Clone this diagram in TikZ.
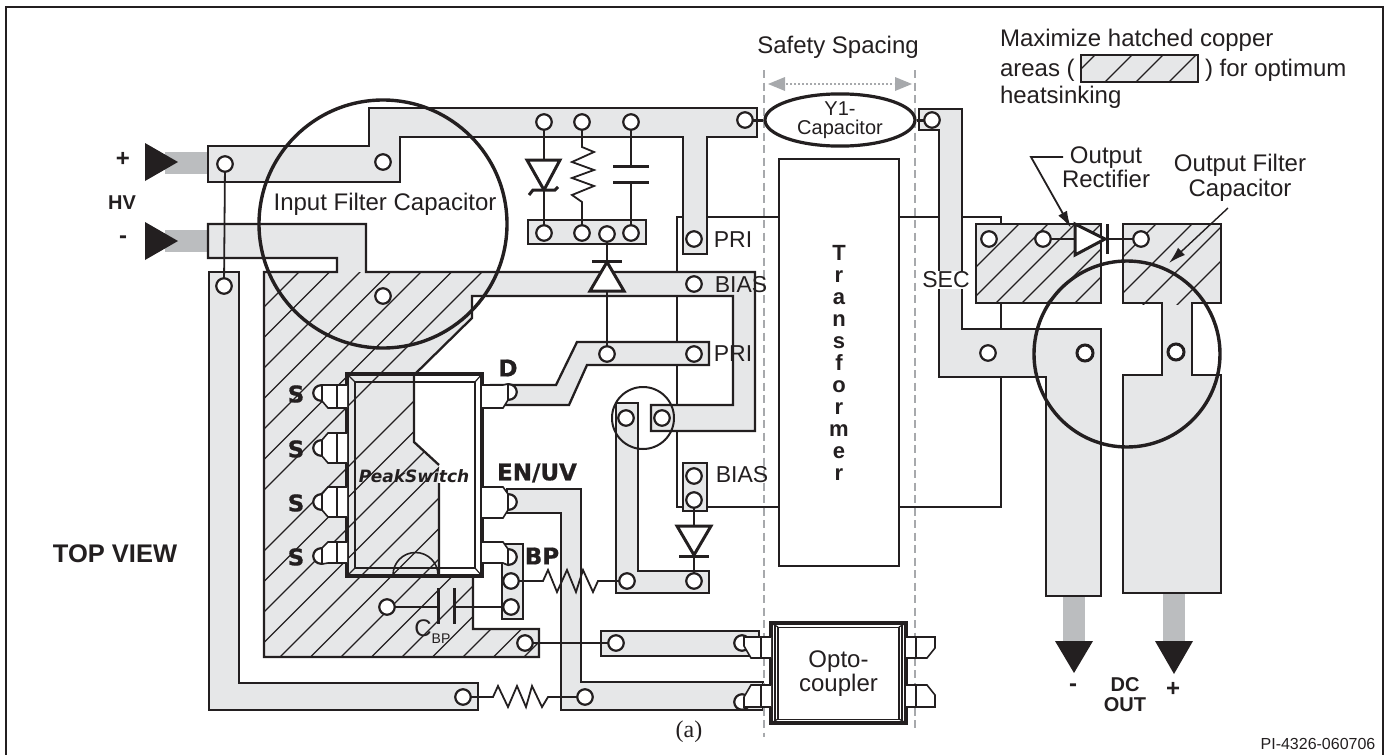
\documentclass[tikz,border=0pt]{standalone}
\usepackage{fontspec}
\setmainfont{Liberation Sans}
\newfontfamily\heavyfont{DejaVu Sans}[BoldFeatures={FakeBold=0.7}]
\newfontfamily\romanfont{Liberation Serif}
\usetikzlibrary{shapes.geometric,arrows.meta}
\definecolor{ink}{HTML}{231F20}
\definecolor{copper}{HTML}{E6E7E8}
\definecolor{barg}{HTML}{BBBDBF}
\definecolor{dashg}{HTML}{A7A9AC}
\newcommand{\fs}[1]{\fontsize{#1}{#1}\selectfont}
\newcommand{\hv}{\heavyfont\bfseries\fs{23}}
\tikzset{
  trace/.style={draw=ink,fill=copper,line width=2.3pt},
  outl/.style={draw=ink,line width=2.3pt},
  wire/.style={draw=ink,line width=1.8pt},
  hatchln/.style={draw=ink,line width=1.3pt},
  pad/.style={circle,draw=ink,fill=white,line width=2.2pt,minimum size=15.5pt,inner sep=0pt,outer sep=0pt},
  bigpad/.style={pad,line width=3pt,minimum size=16pt},
  lbl/.style={inner sep=0pt,outer sep=0pt,text=ink,font=\fs{24},align=center},
  pinpoly/.style={draw=ink,fill=white,line width=1.6pt},
  bigcirc/.style={draw=ink,line width=3.4pt},
  diode/.style={draw=ink,fill=white,line width=3pt,line join=miter},
  plate/.style={draw=ink,line width=3pt},
  safety/.style={draw=dashg,line width=2.4pt,dash pattern=on 8pt off 4.5pt},
  black tri/.style={fill=ink},
  gray bar/.style={fill=barg},
}
\newcommand{\pinL}[4]{% name, top, pad, bottom
  \node[pad] (#1) at (321,#3) {};
  \draw[pinpoly] (347,#2) -- (328,#2) -- (322,#3-8) -- (322,#3+8) -- (328,#4) -- (347,#4);
  \draw[ink,line width=1.4pt] (337,#2) -- (337,#4);
}
\newcommand{\pinR}[4]{% name, top, pad, bottom
  \node[pad] (#1) at (509,#3) {};
  \draw[pinpoly] (482,#2) -- (503,#2) -- (508,#3-8) -- (508,#3+8) -- (503,#4) -- (482,#4);
}
\begin{document}
\begin{tikzpicture}[x=1pt,y=-1pt]
\useasboundingbox (0,0) rectangle (1390,755);
% frame
\draw[ink,line width=2.8pt] (6,7) rectangle (1383,760);

% transformer anchor coordinates and wires underneath the copper
\coordinate (tul) at (779,217);
\coordinate (tll) at (779,507);
\coordinate (tur) at (899,217);
\coordinate (tlr) at (899,507);
\coordinate (wul) at (677,217);
\coordinate (wll) at (677,507);
\coordinate (wur) at (1001,217);
\coordinate (wlr) at (1001,507);
\draw[wire] (tul) -- (wul) -- (wll) -- (tll);
\draw[wire] (tur) -- (wur) -- (wlr) -- (tlr);

% grey terminal bars
\fill[gray bar] (165,152) rectangle (208,174);
\fill[gray bar] (165,230) rectangle (208,252);
\fill[gray bar] (1063,596) rectangle (1085,643);
\fill[gray bar] (1163,593) rectangle (1185,643);
\fill[black tri] (145,143) -- (145,181) -- (178,162) -- cycle;
\fill[black tri] (145,222) -- (145,260) -- (178,241) -- cycle;
\fill[black tri] (1055,641) -- (1093,641) -- (1074,673) -- cycle;
\fill[black tri] (1155,641) -- (1193,641) -- (1174,674) -- cycle;

% copper traces
\draw[trace] (208,146) -- (369,146) -- (369,108) -- (757,108) -- (757,137) -- (707,137) -- (707,254) -- (683,254) -- (683,137) -- (400,137) -- (400,182) -- (208,182) -- cycle;
\draw[trace] (209,272) -- (239,272) -- (239,683) -- (478,683) -- (478,710) -- (209,710) -- cycle;
\def\mainpath{(439,483) -- (439,576) -- (473,576) -- (473,629) -- (539,629) -- (539,657) -- (264,657) -- (264,272) -- (337,272) -- (337,258) -- (208,258) -- (208,224) -- (366,224) -- (366,272) -- (755,272) -- (755,431) -- (651,431) -- (651,405) -- (733,405) -- (733,296) -- (472,296) -- (472,318) -- (414,375) -- (414,442) -- (439,465)}
\fill[copper] \mainpath -- cycle;
\begin{scope}
  \clip (264,272) -- (490,272) -- (472,296) -- (472,318) -- (414,375) -- (414,442) -- (439,465) -- (439,576) -- (473,576) -- (473,629) -- (539,629) -- (539,657) -- (264,657) -- cycle;
  \foreach \k in {0,...,6,8,9,...,22}{
    \pgfmathsetmacro\cc{571+30.5*\k}
    \draw[hatchln] ({\cc-250},250) -- ({\cc-700},700);
  }
\end{scope}
\draw[outl] \mainpath;
\draw[trace] (492,385) -- (556,385) -- (577,342) -- (709,342) -- (709,365) -- (587,365) -- (569,405) -- (505,405) -- cycle;
\draw[trace] (507,489) -- (581,489) -- (581,682) -- (763,682) -- (763,710) -- (561,710) -- (561,513) -- (507,513) -- cycle;
\draw[trace] (502,544) rectangle (523,619);
\draw[trace] (601,631) rectangle (759,656);
\draw[trace] (616,403) -- (638,403) -- (638,571) -- (709,571) -- (709,593) -- (616,593) -- cycle;
\draw[trace] (683,463) rectangle (707,511);
\draw[trace] (528,220) rectangle (646,244);
\draw[trace] (919,109) -- (962,109) -- (962,329) -- (1101,329) -- (1101,596) -- (1046,596) -- (1046,377) -- (939,377) -- (939,130) -- (919,130) -- cycle;
\draw[trace] (976,224) rectangle (1101,303);
\draw[trace] (1123,224) -- (1221,224) -- (1221,303) -- (1192,303) -- (1192,375) -- (1221,375) -- (1221,593) -- (1123,593) -- (1123,375) -- (1162,375) -- (1162,303) -- (1123,303) -- cycle;
\begin{scope}
  \clip (976,224) rectangle (1101,303);
  \foreach \cc in {1243,1272,1299,1325,1350,1378}{
    \draw[hatchln] ({\cc-210},210) -- ({\cc-320},320);
  }
\end{scope}
\begin{scope}
  \clip (1123,224) rectangle (1221,304);
  \foreach \cc in {1380,1416,1448,1482}{
    \draw[hatchln] ({\cc-210},210) -- ({\cc-320},320);
  }
\end{scope}
\draw[outl] (976,224) rectangle (1101,303);
\draw[outl] (1123,224) -- (1221,224) -- (1221,303) (1123,303) -- (1123,224);

% safety spacing
\draw[safety] (764,70) -- (764,737);
\draw[safety] (915,70) -- (915,732);
\draw[dashg,line width=2pt,dotted] (786,84) -- (894,84);
\fill[dashg] (768,84) -- (785,77) -- (785,91) -- cycle;
\fill[dashg] (912,84) -- (895,77) -- (895,91) -- cycle;

% package
\draw[ink,line width=3.4pt] (347,374) rectangle (482,576);
\draw[ink,line width=1.2pt] (355,382) rectangle (475,568);
\draw[ink,line width=1.2pt] (347,374) -- (355,382) (482,374) -- (475,382) (347,576) -- (355,568) (482,576) -- (475,568);
\draw[ink,line width=1.6pt] (438,575) arc[start angle=0,end angle=-180,radius=22.5];
\pinL{s1}{385}{393}{408}
\pinL{s2}{433}{448}{463}
\pinL{s3}{487}{502}{517}
\pinL{s4}{542}{556}{563}
\pinR{d1}{385}{392}{408}
\pinR{en}{487}{502}{518}
\pinR{bp}{542}{557}{563}

% transformer
\node[draw=ink,fill=white,line width=2.2pt,minimum width=120pt,minimum height=407pt,inner sep=0pt,align=center,font=\fs{22}\bfseries,text=ink] (xfmr) at (839,362.5)
  {\fontsize{22}{24}\selectfont T\\r\\a\\n\\s\\f\\o\\r\\m\\e\\r};

% optocoupler
\node[draw=ink,fill=white,line width=1.3pt,minimum width=121pt,minimum height=92pt,inner sep=0pt,align=center,font=\fontsize{24}{24}\selectfont,text=ink] (opto) at (838.5,673.5) {Opto-\\coupler};
\draw[ink,line width=3.4pt] (771,623) rectangle (906,723);
\draw[ink,line width=1.2pt] (775,625) -- (775,721) (902,625) -- (902,721);
\draw[ink,line width=1.2pt] (771,623) -- (778,627) (906,623) -- (899,627) (771,723) -- (778,719) (906,723) -- (899,719);
\node[pad] (ol1) at (742,643) {};
\node[pad] (ol2) at (742,702) {};
\draw[pinpoly] (771,637) -- (744,637) -- (744,646) -- (751,658) -- (771,658);
\draw[pinpoly] (771,685) -- (751,685) -- (744,697) -- (744,707) -- (771,707);
\draw[ink,line width=1.4pt] (761,637) -- (761,658) (761,685) -- (761,707);
\draw[pinpoly] (906,637) -- (935,637) -- (935,648) -- (927,658) -- (906,658);
\draw[pinpoly] (906,685) -- (927,685) -- (935,695) -- (935,707) -- (906,707);
\draw[ink,line width=1.4pt] (916,637) -- (916,658) (916,685) -- (916,707);

% pads
\node[pad] (hp) at (225,164) {};
\node[pad] (hn) at (224,286) {};
\node[pad] (cp) at (383,162) {};
\node[pad] (cn) at (383,296) {};
\node[pad] (t1) at (544,122) {};
\node[pad] (t2) at (582,122) {};
\node[pad] (t3) at (631,122) {};
\node[pad] (t4) at (745,120) {};
\node[pad] (b1) at (544,233) {};
\node[pad] (b2) at (582,233) {};
\node[pad] (b3) at (607,234) {};
\node[pad] (b4) at (631,233) {};
\node[pad] (pr1) at (694,239) {};
\node[pad] (bi1) at (694,284) {};
\node[pad] (pr2) at (607,354) {};
\node[pad] (pr3) at (694,354) {};
\node[pad] (c1) at (626,418) {};
\node[pad] (c2) at (662,418) {};
\node[pad] (bs1) at (694,476) {};
\node[pad] (bs2) at (694,500) {};
\node[pad] (r1) at (627,581) {};
\node[pad] (r2) at (694,581) {};
\node[pad] (bp1) at (511,581) {};
\node[pad] (bp2) at (511,607) {};
\node[pad] (g1) at (387,607) {};
\node[pad] (g2) at (525,643) {};
\node[pad] (g3) at (616,643) {};
\node[pad] (l1) at (463,697) {};
\node[pad] (l2) at (585,697) {};
\node[pad] (y2) at (932,120) {};
\node[pad] (o1) at (989,239) {};
\node[pad] (o2) at (1043,239) {};
\node[pad] (o3) at (1141,239) {};
\node[pad] (o4) at (988,353) {};
\node[bigpad] (o5) at (1085,353) {};
\node[bigpad] (o6) at (1176,352) {};

% connectors and components
\draw[wire] (hp) -- (hn);
\draw[wire] (t1) -- (b1);
\draw[diode] (527,160) -- (560,160) -- (544,190) -- cycle;
\draw[ink,line width=3pt] (529,195) -- (533,190) -- (555,190) -- (558,187);
\draw[wire] (t2) -- (582,147) -- (594,152) -- (572,162) -- (594,170) -- (572,178) -- (594,186) -- (572,195) -- (582,202) -- (b2);
\draw[wire] (t3) -- (b4);
\fill[white] (612,167) rectangle (650,181);
\draw[plate] (613,166) -- (649,166);
\draw[plate] (613,182) -- (649,182);
\draw[wire] (b3) -- (pr2);
\draw[diode] (590,291) -- (624,291) -- (607,262) -- cycle;
\draw[plate] (592,261) -- (622,261);
\draw[wire] (bs2) -- (r2);
\draw[diode] (677,526) -- (711,526) -- (694,555) -- cycle;
\draw[plate] (679,556) -- (709,556);
\draw[wire] (bp1) -- (543,581) -- (548,570) -- (557,592) -- (567,570) -- (576,592) -- (583,570) -- (593,592) -- (598,581) -- (r1);
\draw[wire] (l1) -- (493,697) -- (498,686) -- (508,707) -- (517,686) -- (526,707) -- (532,686) -- (542,707) -- (548,697) -- (l2);
\draw[wire] (g1) -- (438,607);
\draw[wire] (454,607) -- (bp2);
\draw[plate] (438,588) -- (438,624);
\draw[plate] (454,588) -- (454,624);
\draw[wire] (g2) -- (g3);
\draw[wire] (o2) -- (o3);
\draw[diode] (1075,224) -- (1075,255) -- (1105,239) -- cycle;
\draw[plate] (1107,224) -- (1107,254);

% Y1 capacitor
\node[ellipse,draw=ink,fill=white,line width=3.2pt,minimum width=150pt,minimum height=48pt,inner sep=0pt,align=center,text=ink,font=\fontsize{20}{19}\selectfont] (y1) at (840,120) {Y1-\\Capacitor};
\draw[ink,line width=3pt] (t4) -- (y1);
\draw[ink,line width=3pt] (y1) -- (y2);

% capacitors circles
\draw[bigcirc] (383,224) circle[radius=124];
\draw[bigcirc] (1127,354) circle[radius=93];
\draw[ink,line width=2pt] (643,418) circle[radius=31];

% leaders
\coordinate (lead1a) at (1063,157);
\coordinate (lead1b) at (1031,157);
\coordinate (lead1c) at (1071,228);
\draw[wire,-{Latex[length=17pt,width=10pt]}] (lead1a) -- (lead1b) -- (lead1c);
\coordinate (lead2a) at (1228,208);
\coordinate (lead2b) at (1169,263);
\draw[ink,line width=1.4pt,-{Latex[length=17pt,width=10pt]}] (lead2a) -- (lead2b);

% legend
\draw[trace] (1081,55) rectangle (1198,82);
\begin{scope}
  \clip (1081,55) rectangle (1198,82);
  \foreach \cc in {1150,1187,1218,1251}{
    \draw[hatchln] ({\cc-50},50) -- ({\cc-90},90);
  }
\end{scope}
\draw[outl] (1081,55) rectangle (1198,82);

% labels
\node[lbl] (ifc) at (385,204) {Input Filter Capacitor};
\node[lbl] (safe) at (838,47) {Safety Spacing};
\node[lbl,anchor=base west] (max1) at (1000,46) {Maximize hatched copper};
\node[lbl,anchor=base west] (max2) at (1000,76) {areas (};
\node[lbl,anchor=base west] (max3) at (1205,76) {) for optimum};
\node[lbl,anchor=base west] (max4) at (1000,103) {heatsinking};
\node[lbl,font=\bfseries\fs{24}] (plus) at (123,159) {+};
\node[lbl,font=\bfseries\fs{20}] (hv) at (122,203) {HV};
\node[lbl,font=\bfseries\fs{24}] (minus) at (123,240) {-};
\node[lbl,font=\bfseries\fs{25.5}] (top) at (115,554) {TOP VIEW};
\node[lbl,font=\fs{23}] (pril) at (733,240) {PRI};
\node[lbl,font=\fs{23}] (bia) at (741,285) {BIAS};
\node[lbl,font=\fs{23}] (pri2) at (733,354) {PRI};
\node[lbl,font=\fs{23}] (bib) at (742,475) {BIAS};
\node[lbl,font=\fs{23},fill=white,inner sep=1pt] (sec) at (946,280) {SEC};
\node[lbl,font=\fontsize{24}{24}\selectfont] (orect) at (1106,167) {Output\\Rectifier};
\node[lbl,font=\fontsize{24}{25}\selectfont] (ofc) at (1240,178) {Output Filter\\Capacitor};
\node[lbl,font=\hv] (s1l) at (296,394) {S};
\node[lbl,font=\hv] (s2l) at (296,449) {S};
\node[lbl,font=\hv] (s3l) at (296,503) {S};
\node[lbl,font=\hv] (s4l) at (296,557) {S};
\node[lbl,font=\hv] (dl) at (508,368) {D};
\node[lbl,font=\hv] (enl) at (537,473) {EN/UV};
\node[lbl,font=\hv] (bpl) at (542,556) {BP};
\node[lbl,font=\heavyfont\bfseries\itshape\fs{17}] (psw) at (414,476) {PeakSwitch};
\node[lbl,font=\fs{24}] (cl) at (423,628) {C};
\node[lbl,font=\fs{14}] (cb) at (441,639) {BP};
\node[lbl,font=\romanfont\fs{24}] (cap) at (689,732) {(a)};
\node[lbl,font=\fs{16}] (pi) at (1318,744) {PI-4326-060706};
\node[lbl,font=\bfseries\fs{24}] (dcm) at (1073,688) {-};
\node[lbl,font=\bfseries\fs{24}] (dcp) at (1173,689) {+};
\node[lbl,font=\bfseries\fontsize{20}{20}\selectfont] (dco) at (1125,695) {DC\\OUT};
\end{tikzpicture}
\end{document}
